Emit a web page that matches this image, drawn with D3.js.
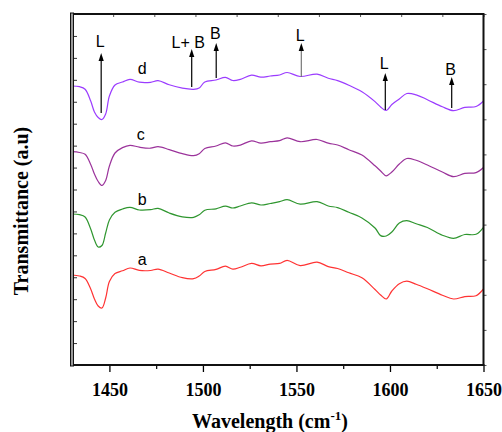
<!DOCTYPE html>
<html>
<head>
<meta charset="utf-8">
<script src="https://cdn.jsdelivr.net/npm/d3@7"></script>
<style>
  html, body { margin: 0; padding: 0; background: #fff; }
  svg { display: block; }
</style>
</head>
<body>
<svg id="chart" width="502" height="432"></svg>
<script>
// ---------- data ----------
const wavenumber = [1430,1434,1437,1440,1442,1444,1446,1448,1450,1453,
  1457,1461,1466,1472,1476,1482,1489,1495,1498,1501,
  1507,1512,1516,1520,1526,1531,1536,1541,1545,1552,
  1561,1567,1572,1578,1585,1592,1595,1598,1601,1605,
  1609,1614,1620,1628,1634,1640,1646,1650];

const seriesD = [27.9,27.83,27.58,26.4,25.3,24.75,24.55,25.1,26.9,28.0,
  28.3,28.57,28.28,28.27,28.43,28.02,27.68,27.57,27.7,28.3,
  28.5,28.77,28.45,28.57,28.99,28.78,28.9,29.0,29.25,28.85,
  29.09,28.67,28.44,27.98,27.33,26.34,25.8,25.45,26.05,26.6,
  27.15,27.02,26.53,25.82,25.43,25.77,25.85,26.4];

const seriesC = [21.33,21.25,21.07,20.05,19.1,18.35,17.95,18.45,19.9,21.2,
  21.74,21.97,21.78,21.68,21.84,21.54,21.13,20.93,21.12,21.65,
  21.9,22.22,21.9,21.99,22.42,22.18,22.33,22.43,22.72,22.33,
  22.55,22.18,22.0,21.53,21.0,19.92,19.4,18.92,19.3,20.1,
  20.65,20.47,20.0,19.3,18.83,19.16,19.24,19.75];

const seriesB = [15.1,15.03,14.8,13.6,12.5,11.8,11.95,13.2,14.5,15.27,
  15.6,15.77,15.5,15.53,15.66,15.2,14.82,14.77,15.02,15.48,
  15.62,15.89,15.7,15.9,16.22,16.0,16.15,16.33,16.54,16.09,
  16.34,15.9,15.74,15.27,14.71,13.7,12.94,12.9,13.3,14.2,
  14.43,14.12,13.75,12.98,12.67,13.05,13.07,13.77];

const seriesA = [9.0,8.9,8.65,7.6,6.6,5.9,5.7,6.7,8.35,9.14,
  9.42,9.7,9.46,9.45,9.59,9.2,8.73,8.63,8.9,9.35,
  9.56,9.88,9.58,9.77,10.16,9.92,10.09,10.16,10.47,9.94,
  10.29,9.84,9.65,9.22,8.72,7.55,7.0,6.6,7.4,8.13,
  8.38,8.07,7.62,6.98,6.6,6.84,6.93,7.6];

const seriesNames = ["a", "b", "c", "d"];
const seriesLabelW = [1467.5, 1467.5, 1466.8, 1467.5];
const seriesLabelV = [10.0, 16.0, 22.5, 29.1];

const xTickValues = [1450, 1500, 1550, 1600, 1650];
const xMinorTicks = [1475, 1525, 1575, 1625];

// peak annotations on curve d
const annoLabel = ["L", "L+ B", "B", "L", "L", "B"];
const annoW     = [1445.6, 1494.0, 1507.1, 1552.6, 1597.5, 1633.0];
const annoBase  = [25.2, 27.8, 28.7, 28.8, 25.5, 25.7];
const annoTip   = [31.2, 31.6, 32.2, 32.2, 29.2, 28.8];
const annoText  = [31.7, 31.6, 32.5, 32.3, 29.5, 28.9];

// ---------- layout / styles ----------
const colors = ["#ff3333", "#2f962f", "#9b339b", "#9b3cff"];
const svg = d3.select("#chart");
const L = 72, R = 483.5, T = 14, B = 365;

const x = d3.scaleLinear().domain([1430, 1650]).range([L, R]);
const y = d3.scaleLinear().domain([0, 35.1]).range([B, T]);

const allSeries = [seriesA, seriesB, seriesC, seriesD];

const line = d3.line()
  .x((d, i) => x(wavenumber[i]))
  .y(d => y(d))
  .curve(d3.curveCatmullRom.alpha(0.5));

svg.append("defs").append("clipPath").attr("id", "clip")
  .append("rect").attr("x", L).attr("y", T).attr("width", R - L).attr("height", B - T);

const g = svg.append("g").attr("clip-path", "url(#clip)");
allSeries.forEach((s, k) => {
  g.append("path")
    .attr("d", line(s))
    .attr("fill", "none")
    .attr("stroke", colors[k])
    .attr("stroke-width", 1.2);
});

// series letters
seriesNames.forEach((n, k) => {
  svg.append("text")
    .attr("x", x(seriesLabelW[k]))
    .attr("y", y(seriesLabelV[k]))
    .attr("text-anchor", "middle")
    .attr("font-family", "Liberation Sans, Arial, sans-serif")
    .attr("font-size", 16)
    .attr("fill", "#000")
    .text(n);
});

// annotations
annoLabel.forEach((t, k) => {
  const ax = x(annoW[k]);
  const yb = y(annoBase[k]);
  const yt = y(annoTip[k]);
  const shaftColor = k === 3 ? "#777" : "#000";
  svg.append("line")
    .attr("x1", ax).attr("x2", ax)
    .attr("y1", yb).attr("y2", yt + 5)
    .attr("stroke", shaftColor).attr("stroke-width", 1.2);
  svg.append("path")
    .attr("d", `M${ax},${yt} L${ax - 2.6},${yt + 8} L${ax + 2.6},${yt + 8} Z`)
    .attr("fill", "#000");
  svg.append("text")
    .attr("x", ax - (t.length > 1 ? 3.5 : 1))
    .attr("y", y(annoText[k]) - 1)
    .attr("text-anchor", "middle")
    .attr("font-family", "Liberation Sans, Arial, sans-serif")
    .attr("font-size", 16)
    .attr("fill", "#000")
    .text(t);
});

// ---------- axes ----------
const serif = "Liberation Serif, Times New Roman, serif";
const xAxis = svg.append("g")
  .attr("transform", `translate(0,${B})`)
  .call(d3.axisBottom(x).tickValues(xTickValues).tickSize(7).tickPadding(11).tickFormat(d3.format("d")));
xAxis.select(".domain").remove();
xAxis.selectAll(".tick line").attr("stroke", "#000").attr("stroke-width", 1.3);
xAxis.selectAll(".tick text")
  .attr("font-family", serif).attr("font-weight", "bold")
  .attr("font-size", 18).attr("fill", "#000");

const xMinor = svg.append("g")
  .attr("transform", `translate(0,${B})`)
  .call(d3.axisBottom(x).tickValues(xMinorTicks).tickSize(4).tickFormat(""));
xMinor.select(".domain").remove();
xMinor.selectAll(".tick line").attr("stroke", "#000").attr("stroke-width", 1.2);

// left axis small inward ticks
const yTickScale = d3.scaleLinear().domain([0, 16]).range([B, T]);
const yl = svg.append("g").attr("transform", `translate(${L + 2},0)`)
  .call(d3.axisRight(yTickScale).ticks(16).tickSize(3).tickFormat(""));
yl.select(".domain").remove();
yl.selectAll(".tick line").attr("stroke", "#333").attr("stroke-width", 1);

// right axis small outward ticks
const yRScale = d3.scaleLinear().domain([0, 10]).range([B, T]);
const yr = svg.append("g").attr("transform", `translate(${R},0)`)
  .call(d3.axisRight(yRScale).ticks(10).tickSize(3).tickFormat(""));
yr.select(".domain").remove();
yr.selectAll(".tick line").attr("stroke", "#555").attr("stroke-width", 1);

// top axis small inward ticks
const xTopScale = d3.scaleLinear().domain([0, 10]).range([L, R]);
const xt = svg.append("g").attr("transform", `translate(0,${T})`)
  .call(d3.axisBottom(xTopScale).ticks(10).tickSize(3).tickFormat(""));
xt.select(".domain").remove();
xt.selectAll(".tick line").attr("stroke", "#555").attr("stroke-width", 1);

// frame
svg.append("line").attr("x1", L).attr("x2", R).attr("y1", T).attr("y2", T)
  .attr("stroke", "#111").attr("stroke-width", 2);
svg.append("line").attr("x1", L).attr("x2", R + 1).attr("y1", B).attr("y2", B)
  .attr("stroke", "#111").attr("stroke-width", 2);
svg.append("line").attr("x1", R).attr("x2", R).attr("y1", T - 1).attr("y2", B + 1)
  .attr("stroke", "#111").attr("stroke-width", 2);
// left double line
svg.append("rect").attr("x", L - 1.5).attr("y", T - 1).attr("width", 3).attr("height", B - T + 2)
  .attr("fill", "#999").attr("stroke", "#111").attr("stroke-width", 1);

// axis titles
const xt2 = svg.append("text")
  .attr("x", 270).attr("y", 428)
  .attr("text-anchor", "middle")
  .attr("font-family", serif).attr("font-weight", "bold")
  .attr("font-size", 20).attr("fill", "#000");
xt2.append("tspan").text("Wavelength (cm");
xt2.append("tspan").attr("font-size", 13).attr("dy", -8).text("-1");
xt2.append("tspan").attr("dy", 8).text(")");

svg.append("text")
  .attr("transform", "translate(28,211) rotate(-90)")
  .attr("text-anchor", "middle")
  .attr("font-family", serif).attr("font-weight", "bold")
  .attr("font-size", 20).attr("fill", "#000")
  .text("Transmittance (a.u)");
</script>
</body>
</html>
